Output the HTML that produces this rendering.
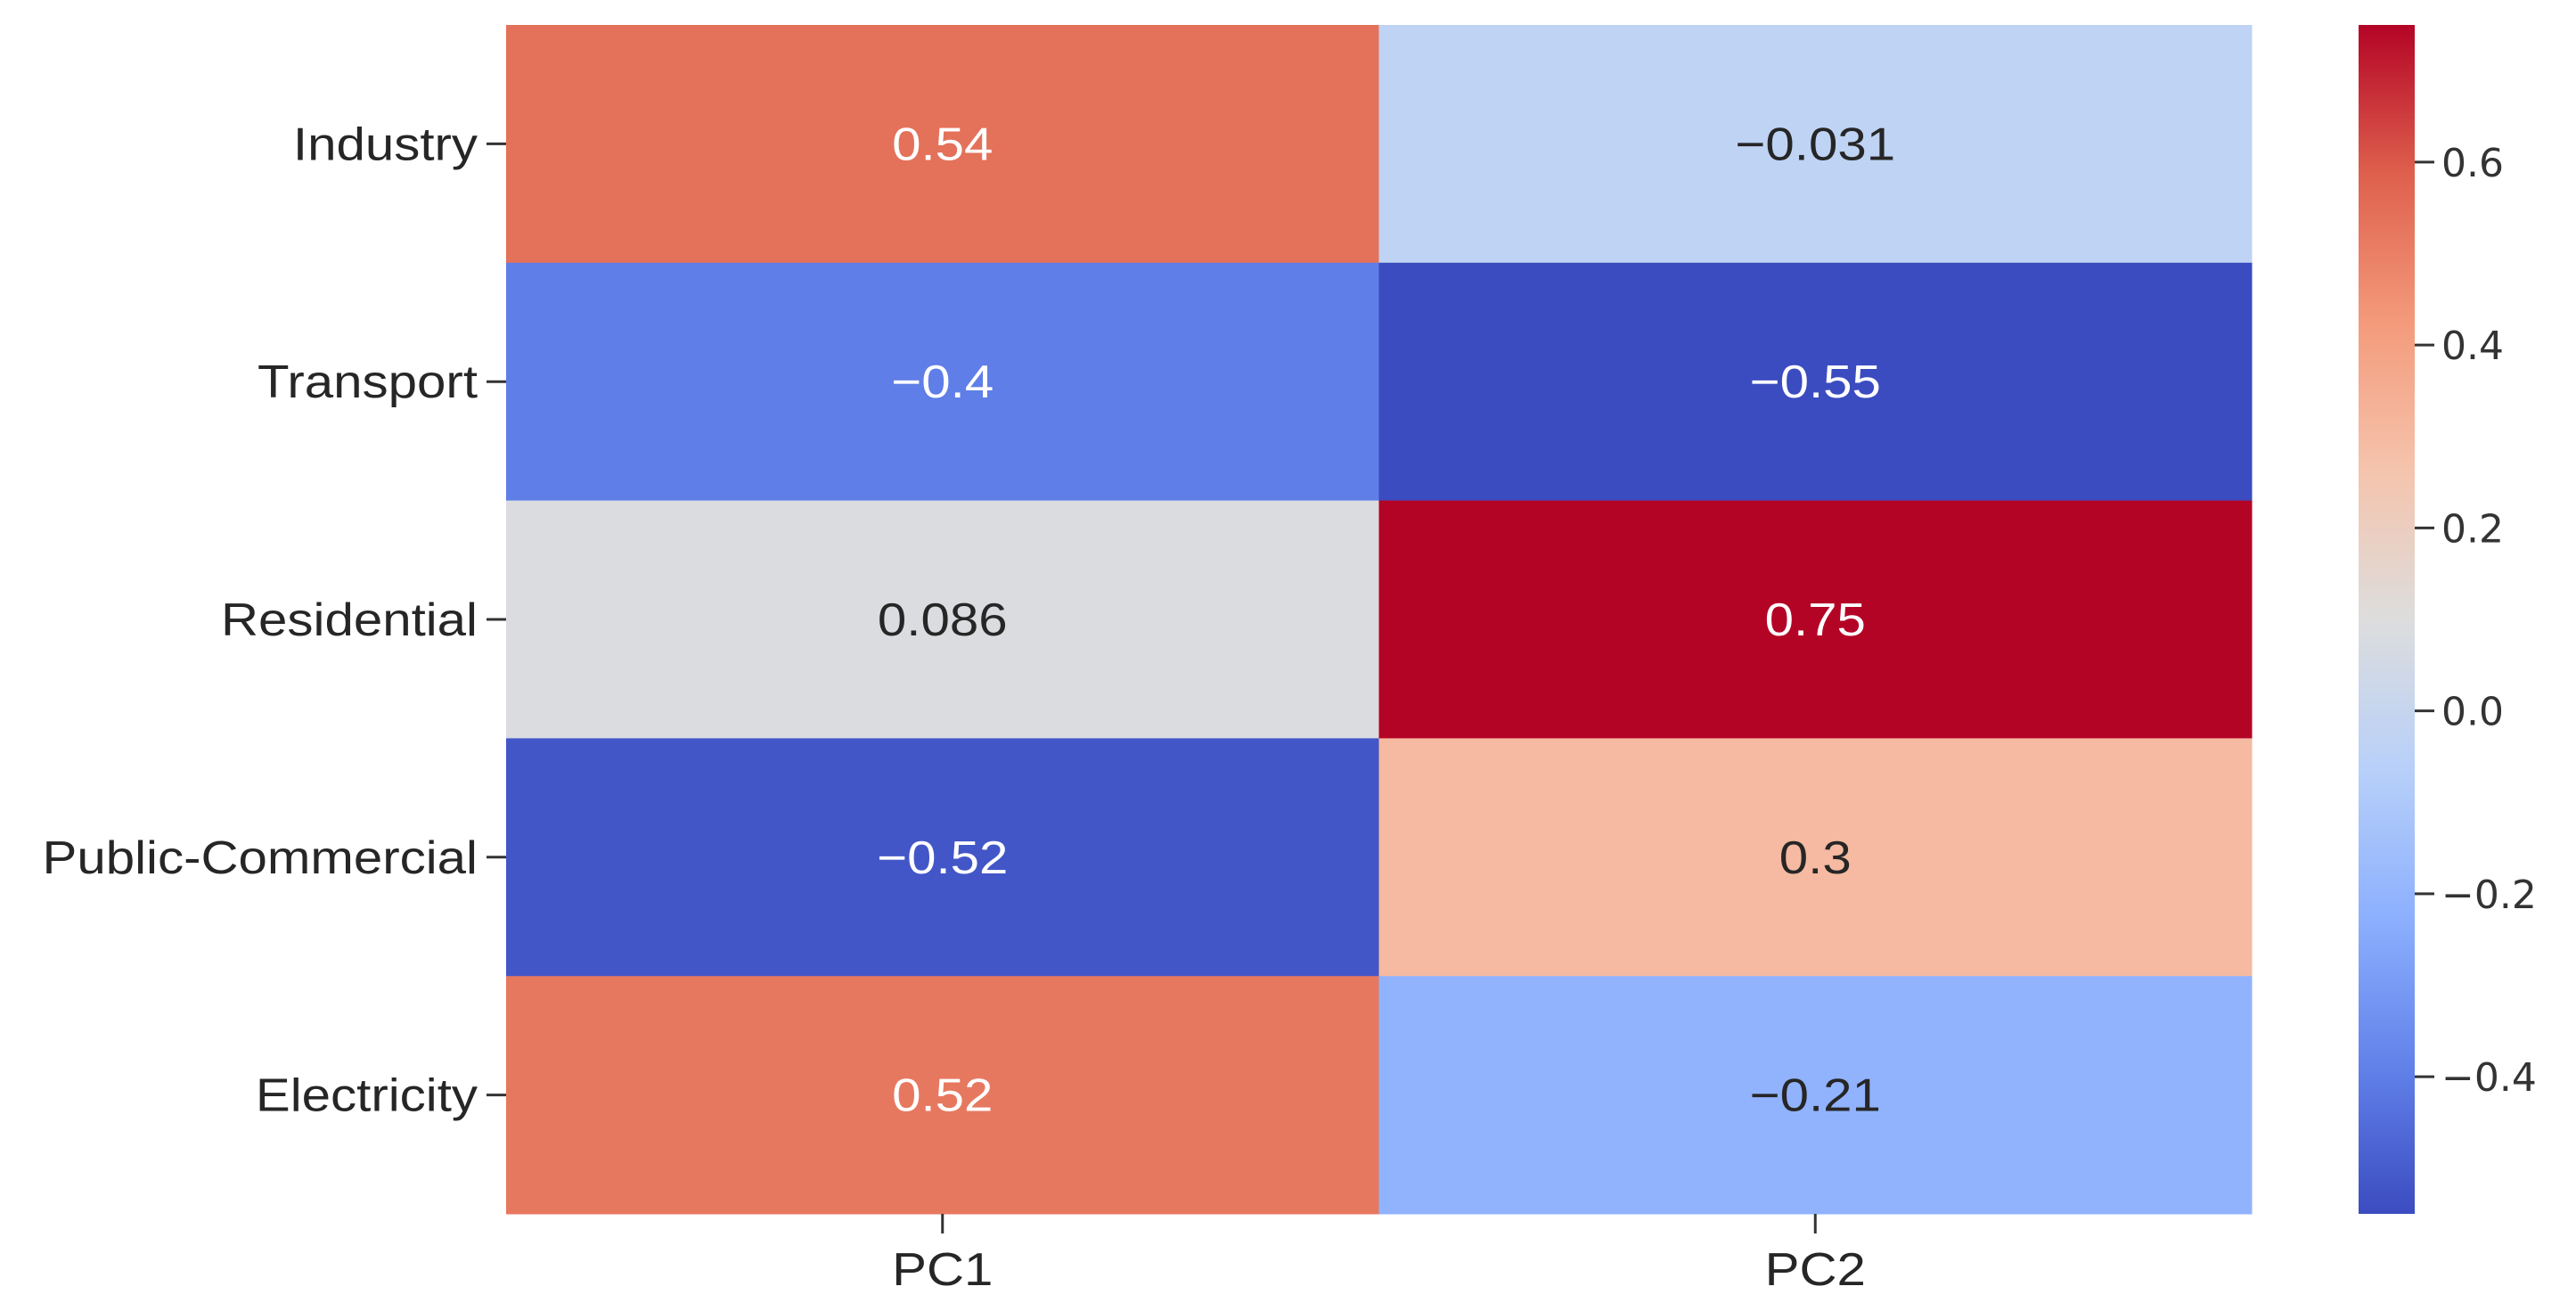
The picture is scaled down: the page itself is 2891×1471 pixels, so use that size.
<!DOCTYPE html>
<html><head><meta charset="utf-8"><style>
html,body{margin:0;padding:0;background:#fff;}
svg{display:block;font-family:"Liberation Sans","DejaVu Sans",sans-serif;}
</style></head><body>
<svg id="chart" width="2891" height="1471" viewBox="0 0 2891 1471" xmlns="http://www.w3.org/2000/svg">
<defs>
<linearGradient id="cbgrad" x1="0" y1="1" x2="0" y2="0">
<stop offset="0" stop-color="rgb(59,76,192)"/>
<stop offset="0.125" stop-color="rgb(98,130,234)"/>
<stop offset="0.25" stop-color="rgb(141,176,254)"/>
<stop offset="0.375" stop-color="rgb(184,208,249)"/>
<stop offset="0.5" stop-color="rgb(221,221,221)"/>
<stop offset="0.625" stop-color="rgb(245,196,173)"/>
<stop offset="0.75" stop-color="rgb(244,154,123)"/>
<stop offset="0.875" stop-color="rgb(222,96,77)"/>
<stop offset="1" stop-color="rgb(180,4,38)"/>
</linearGradient>
</defs>
<g id="cells"></g>
<g id="ylabels"></g>
<g id="xlabels"></g>
<g id="cbar"></g>
</svg>
<script>
const rows = ["Industry","Transport","Residential","Public-Commercial","Electricity"];
const cols = ["PC1","PC2"];
const pc1Values = [0.54, -0.4, 0.086, -0.52, 0.52];
const pc2Values = [-0.031, -0.55, 0.75, 0.3, -0.21];
const cellLabels1 = ["0.54","\u22120.4","0.086","\u22120.52","0.52"];
const cellLabels2 = ["\u22120.031","\u22120.55","0.75","0.3","\u22120.21"];
const cbarTicks = [0.6, 0.4, 0.2, 0.0, -0.2, -0.4];
const cbarTickLabels = ["0.6","0.4","0.2","0.0","\u22120.2","\u22120.4"];
const vmin = -0.55, vmax = 0.75;

const NS = "http://www.w3.org/2000/svg";
const L = 568, R = 2527, T = 28, B = 1362;
const cw = (R - L) / cols.length, rh = (B - T) / rows.length;
const xPos = i => L + i * cw;
const yPos = j => T + j * rh;
const cmapPts = [[59,76,192],[98,130,234],[141,176,254],[184,208,249],[221,221,221],[245,196,173],[244,154,123],[222,96,77],[180,4,38]];
function cmap(v){
  let t = Math.max(0, Math.min(1, (v - vmin) / (vmax - vmin)));
  let p = t * 8, i = Math.min(7, Math.floor(p)), f = p - i;
  const a = cmapPts[i], b = cmapPts[i+1];
  return a.map((c,k)=>Math.round(c + (b[k]-c)*f));
}
function mk(tag, attrs, parent){
  const e = document.createElementNS(NS, tag);
  for (const k in attrs) e.setAttribute(k, attrs[k]);
  parent.appendChild(e); return e;
}
const SX = 1.12;
const cells = document.getElementById('cells');
const series = [pc1Values, pc2Values];
const labels = [cellLabels1, cellLabels2];
series.forEach((vals, ci) => {
  vals.forEach((v, ri) => {
    const c = cmap(v);
    const r = mk('rect', {x: xPos(ci), y: yPos(ri), width: cw + 0.5, height: rh + 0.5, fill: `rgb(${c[0]},${c[1]},${c[2]})`}, cells);
    
    
    const lum = (0.299*c[0] + 0.587*c[1] + 0.114*c[2]) / 255;
    const t = mk('text', {x: 0, y: 0, transform: `translate(${xPos(ci) + cw/2},${yPos(ri) + rh/2 + 18}) scale(${SX},1)`, 'text-anchor': 'middle', 'font-size': 52, fill: lum < 0.6 ? '#ffffff' : '#262626'}, cells);
    t.textContent = labels[ci][ri];
    
    
  });
});
const yl = document.getElementById('ylabels');
rows.forEach((name, ri) => {
  const cy = yPos(ri) + rh/2;
  const tk = mk('line', {x1: L - 22, x2: L, y1: cy, y2: cy, stroke: '#333', 'stroke-width': 3}, yl);
  
  
  const t = mk('text', {x: 0, y: 0, transform: `translate(${L - 32},${cy + 18}) scale(${SX},1)`, 'text-anchor': 'end', 'font-size': 52, fill: '#262626'}, yl);
  t.textContent = name;
  
  
});
const xl = document.getElementById('xlabels');
cols.forEach((name, ci) => {
  const cx = xPos(ci) + cw/2;
  const tk = mk('line', {x1: cx, x2: cx, y1: B, y2: B + 22, stroke: '#333', 'stroke-width': 3}, xl);
  
  
  const t = mk('text', {x: 0, y: 0, transform: `translate(${cx},${B + 80}) scale(${SX},1)`, 'text-anchor': 'middle', 'font-size': 52, fill: '#262626'}, xl);
  t.textContent = name;
  
  
});
const cb = document.getElementById('cbar');
const CL = 2647, CW = 63, CT = 28, CB = 1362;
const cy = v => CB - (v - vmin) / (vmax - vmin) * (CB - CT);
const bar = mk('rect', {x: CL, y: CT, width: CW, height: CB - CT, fill: 'url(#cbgrad)'}, cb);


cbarTicks.forEach((v, i) => {
  const y = cy(v);
  const tk = mk('line', {x1: CL + CW, x2: CL + CW + 22, y1: y, y2: y, stroke: '#333', 'stroke-width': 3}, cb);
  
  
  const t = mk('text', {x: CL + CW + 30, y: y + 16, 'font-size': 44, 'font-family': '"DejaVu Sans", sans-serif', fill: '#333'}, cb);
  t.textContent = cbarTickLabels[i];
  
  
});
</script>
</body></html>
